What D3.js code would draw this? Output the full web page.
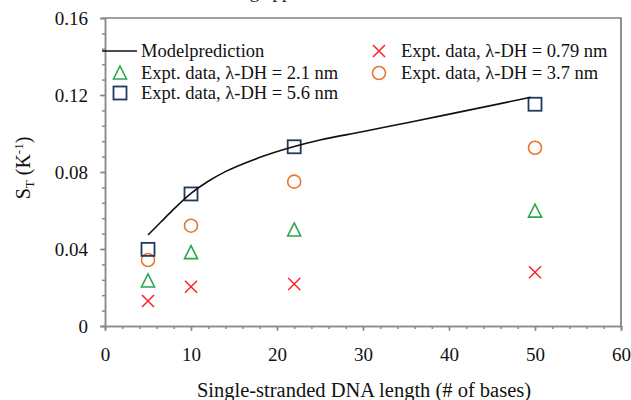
<!DOCTYPE html>
<html>
<head>
<meta charset="utf-8">
<script src="https://cdn.jsdelivr.net/npm/d3@7/dist/d3.min.js"></script>
<style>
  body { margin: 0; background: #fff; }
  svg { display: block; font-family: "Liberation Serif", "Times New Roman", serif; }
</style>
</head>
<body>
<div id="canvas"></div>
<script>
// data
var lengths = [5, 10, 22, 50];
var stDH079 = [0.013, 0.0204, 0.0218, 0.0279];
var stDH21 = [0.0234, 0.0381, 0.0499, 0.0597];
var stDH37 = [0.0343, 0.0521, 0.075, 0.0926];
var stDH56 = [0.0398, 0.0686, 0.0931, 0.1152];

var modelX = [5, 6.5, 7.9, 10, 12, 14, 17.7, 21.9, 25, 29.9, 35, 39.2, 44, 49.5];
var modelY = [0.0473, 0.0540, 0.0603, 0.0689, 0.0752, 0.0802, 0.0871, 0.0931, 0.0966, 0.1009, 0.1055, 0.1093, 0.1137, 0.1188];

var xTicks = [0, 10, 20, 30, 40, 50, 60];
var yTicks = [0, 0.04, 0.08, 0.12, 0.16];

var W = 631, H = 400;
var m = {t: 18, r: 10, b: 74, l: 105};
var w = W - m.l - m.r, h = H - m.t - m.b;

var svg = d3.select('#canvas').append('svg')
  .attr('width', W).attr('height', H);

// title, cut off by the top edge as in the source picture
svg.append('text')
  .attr('x', 268).attr('y', -2)
  .attr('text-anchor', 'middle')
  .attr('font-size', 19)
  .attr('fill', '#222')
  .text('Scaling approach');

var plot = svg.append('g').attr('transform', 'translate(' + m.l + ',' + m.t + ')');

var x = d3.scaleLinear().domain([0, 60]).range([0, w]);
var y = d3.scaleLinear().domain([0, 0.16]).range([h, 0]);

// frame (top + right)
plot.append('path')
  .attr('d', 'M0,0H' + w + 'V' + h)
  .attr('fill', 'none').attr('stroke', '#444').attr('stroke-width', 1.2);

// minor + major ticks
var axisXMinor = d3.axisBottom(x).tickValues(d3.range(0, 61, 2)).tickSize(3).tickFormat('');
var axisYMinor = d3.axisLeft(y).tickValues(d3.range(0, 0.1601, 0.008)).tickSize(3).tickFormat('');
var axisX = d3.axisBottom(x).tickValues(xTicks).tickSize(5).tickPadding(17).tickFormat(d3.format('d'));
var axisY = d3.axisLeft(y).tickValues(yTicks).tickSize(5).tickPadding(12)
  .tickFormat(function (d) { return d === 0 ? '0' : d3.format('.2f')(d); });

[axisXMinor, axisX].forEach(function (a) {
  var g = plot.append('g').attr('class', 'axis').attr('transform', 'translate(0,' + h + ')');
  a(g);
});
[axisYMinor, axisY].forEach(function (a) {
  var g = plot.append('g').attr('class', 'axis');
  a(g);
});
plot.selectAll('.axis path, .axis line').attr('stroke', '#8a8a8a').attr('stroke-width', 1.5);
plot.selectAll('.axis text').attr('font-family', '"Liberation Serif", serif')
  .attr('font-size', 19).attr('fill', '#111');

// axis titles
svg.append('text')
  .attr('x', 364).attr('y', 397)
  .attr('text-anchor', 'middle').attr('font-size', 20.5).attr('fill', '#111')
  .text('Single-stranded DNA length (# of bases)');

var yt = svg.append('text')
  .attr('transform', 'translate(30,168) rotate(-90)')
  .attr('text-anchor', 'middle').attr('font-size', 20).attr('fill', '#111');
yt.append('tspan').text('S');
yt.append('tspan').attr('font-size', 13).attr('dy', 4).text('T');
yt.append('tspan').attr('dy', -4).text(' (K');
yt.append('tspan').attr('font-size', 13).attr('dy', -7).text('-1');
yt.append('tspan').attr('dy', 7).text(')');

// marker shapes
var colors = {red: '#ff1f2a', green: '#2aa84e', orange: '#e8772e', navy: '#1f3a5f'};
function marker(g, type, cx, cy) {
  var s = 6.5;
  if (type === 'x') {
    g.append('path').attr('d', 'M' + (cx - 6) + ',' + (cy - 6) + 'L' + (cx + 6) + ',' + (cy + 6) +
      'M' + (cx - 6) + ',' + (cy + 6) + 'L' + (cx + 6) + ',' + (cy - 6))
      .attr('stroke', colors.red).attr('stroke-width', 1.5).attr('fill', 'none');
  } else if (type === 'tri') {
    g.append('path').attr('d', 'M' + cx + ',' + (cy - 7) + 'L' + (cx + 6.5) + ',' + (cy + 6) +
      'L' + (cx - 6.5) + ',' + (cy + 6) + 'Z')
      .attr('stroke', colors.green).attr('stroke-width', 1.6).attr('fill', 'none');
  } else if (type === 'circ') {
    g.append('circle').attr('cx', cx).attr('cy', cy).attr('r', s)
      .attr('stroke', colors.orange).attr('stroke-width', 1.6).attr('fill', 'none');
  } else {
    g.append('rect').attr('x', cx - s).attr('y', cy - s).attr('width', 2 * s).attr('height', 2 * s)
      .attr('stroke', colors.navy).attr('stroke-width', 1.8).attr('fill', 'none');
  }
}

var series = [
  {type: 'x', vals: stDH079},
  {type: 'tri', vals: stDH21},
  {type: 'circ', vals: stDH37},
  {type: 'sq', vals: stDH56}
];

var marks = plot.append('g');
series.forEach(function (s) {
  s.vals.forEach(function (v, i) { marker(marks, s.type, x(lengths[i]), y(v)); });
});

// model line
var model = modelX.map(function (d, i) { return [d, modelY[i]]; });
plot.append('path')
  .datum(model)
  .attr('d', d3.line().x(function (d) { return x(d[0]); }).y(function (d) { return y(d[1]); })
    .curve(d3.curveMonotoneX))
  .attr('fill', 'none').attr('stroke', '#111').attr('stroke-width', 1.6);

// legend
var lg = svg.append('g').attr('font-size', 18.5).attr('fill', '#111');
lg.append('line').attr('x1', 102).attr('x2', 137).attr('y1', 51).attr('y2', 51)
  .attr('stroke', '#111').attr('stroke-width', 1.6);
lg.append('text').attr('x', 141).attr('y', 57).text('Modelprediction');
marker(lg, 'x', 379, 51);
lg.append('text').attr('x', 401).attr('y', 57).text('Expt. data, λ-DH = 0.79 nm');
marker(lg, 'tri', 120, 73);
lg.append('text').attr('x', 141).attr('y', 79).text('Expt. data, λ-DH = 2.1 nm');
marker(lg, 'circ', 379, 73);
lg.append('text').attr('x', 401).attr('y', 79).text('Expt. data, λ-DH = 3.7 nm');
marker(lg, 'sq', 120, 93);
lg.append('text').attr('x', 141).attr('y', 99).text('Expt. data, λ-DH = 5.6 nm');
</script>
</body>
</html>
